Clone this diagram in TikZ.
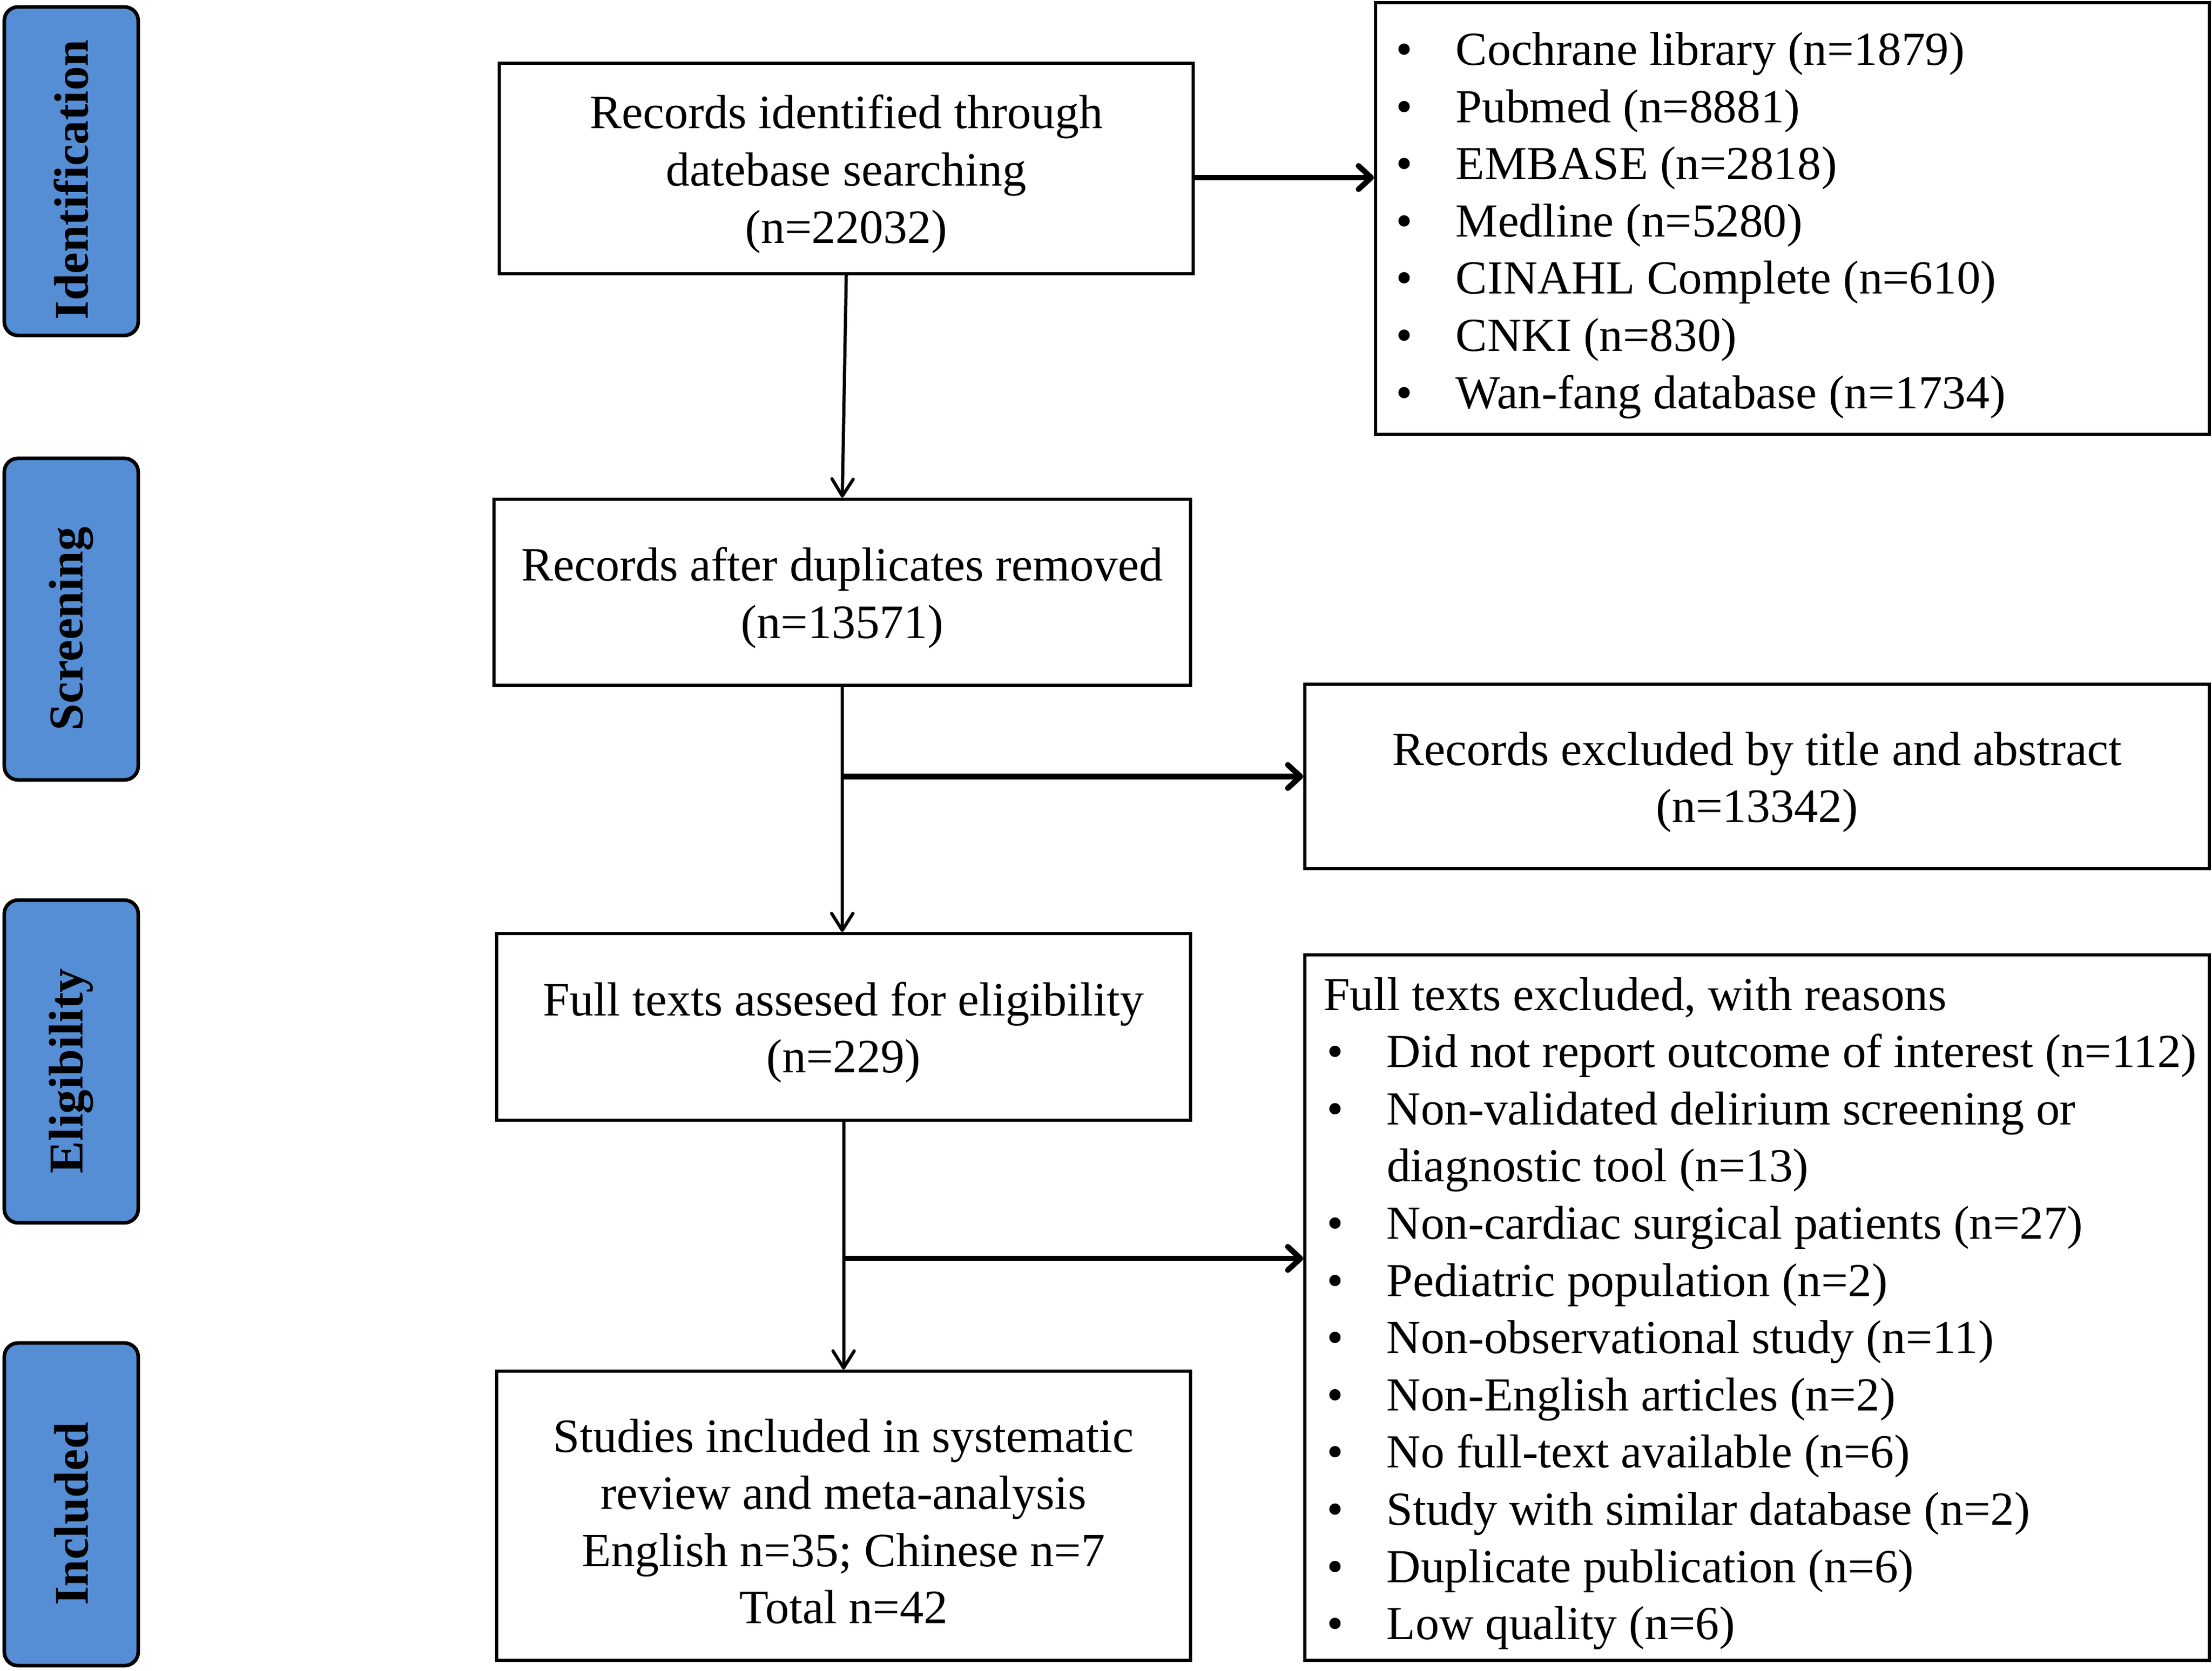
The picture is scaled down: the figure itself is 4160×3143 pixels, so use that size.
\documentclass[tikz,border=0pt]{standalone}
\usepackage{fontspec}
\setmainfont{Liberation Serif}
\usetikzlibrary{arrows.meta,calc}
\definecolor{sideblue}{HTML}{558ED5}
\newcommand{\blt}{\makebox[29.75pt][l]{\hspace{1.5pt}\textbullet}}
\newcommand{\hng}{\hspace*{29.75pt}}
\newcommand{\fl}[1]{\rule{0pt}{#1}}
\begin{document}
\begin{tikzpicture}[x=0.25pt,y=-0.25pt,
  every node/.style={font=\fontsize{22.3}{26.9}\selectfont},
  box/.style={draw,line width=1.5pt,align=center,inner sep=0pt},
  mainbox/.style={box,font=\fontsize{22.5}{26.9}\selectfont},
  listbox/.style={draw,line width=1.5pt,align=left,inner sep=0pt},
  side/.style={draw,line width=1.7pt,fill=sideblue,rounded corners=6.5pt,minimum width=63pt,inner sep=0pt,font=\fontsize{22.8}{26.9}\selectfont\bfseries},
  varrow/.style={line width=1.5pt,-{Straight Barb[length=8pt,width=10pt,round]}},
  harrow/.style={line width=2.6pt,-{Straight Barb[length=6pt,width=11pt,round]}}]
\useasboundingbox (0,0) rectangle (4160,3143);
% side labels
\node[side,minimum height=154.5pt] (sid) at (134,322) {\rotatebox{90}{Identification\hspace{8pt}}};
\node[side,minimum height=151.25pt] (sscr) at (134,1164.5) {\rotatebox{90}{Screening\hspace{9pt}}};
\node[side,minimum height=151.75pt] (selig) at (134,1996.5) {\rotatebox{90}{Eligibility\hspace{9pt}}};
\node[side,minimum height=151.75pt] (sinc) at (134,2829.5) {\rotatebox{90}{Included\hspace{9pt}}};
% main boxes
\node[mainbox,minimum width=326.25pt,minimum height=99pt] (b1) at (1591.5,317) {\fl{21pt}Records identified through\\datebase searching\\(n=22032)};
\node[mainbox,minimum width=327.5pt,minimum height=87.5pt] (b2) at (1584,1114) {\fl{21pt}Records after duplicates removed\\(n=13571)};
\node[mainbox,minimum width=326.25pt,minimum height=87.75pt] (b3) at (1586.5,1931.5) {\fl{21pt}Full texts assesed for eligibility\\(n=229)};
\node[mainbox,minimum width=326.25pt,minimum height=136pt] (b4) at (1586.5,2851) {\fl{21pt}Studies included in systematic\\review and meta-analysis\\English n=35; Chinese n=7\\Total n=42};
% side boxes
\node[listbox,minimum width=392pt,minimum height=203pt] (dbs) at (3371,411) {\fl{22pt}\makebox[376pt][l]{\blt Cochrane library (n=1879)}\\
\blt Pubmed (n=8881)\\
\blt EMBASE (n=2818)\\
\blt Medline (n=5280)\\
\blt CINAHL Complete (n=610)\\
\blt CNKI (n=830)\\
\blt Wan-fang database (n=1734)};
\node[mainbox,minimum width=425.25pt,minimum height=86.75pt] (ex1) at (3304.5,1460.5) {\fl{21pt}Records excluded by title and abstract\\(n=13342)};
\node[listbox,minimum width=425.25pt,minimum height=331.75pt] (ex2) at (3304.5,2459.5) {\fl{21pt}\makebox[407.75pt][l]{Full texts excluded, with reasons}\\
\blt\makebox[377pt][l]{Did not report outcome of interest (n=112)}\\
\blt Non-validated delirium screening or\\
\hng diagnostic tool (n=13)\\
\blt Non-cardiac surgical patients (n=27)\\
\blt Pediatric population (n=2)\\
\blt Non-observational study (n=11)\\
\blt Non-English articles (n=2)\\
\blt No full-text available (n=6)\\
\blt Study with similar database (n=2)\\
\blt Duplicate publication (n=6)\\
\blt Low quality (n=6)};
% connectors
\coordinate (a1) at ($(b1.east)+(0,17)$);
\draw[harrow] (a1) -- (a1 -| dbs.west);
\draw[varrow] (b1.south) -- (b2.north);
\draw[varrow] (b2.south) -- (b2.south |- b3.north);
\draw[harrow] (b2.south |- ex1.west) -- (ex1.west);
\draw[varrow] (b3.south) -- (b4.north);
\coordinate (a3) at ($(ex2.west)+(0,-92.5)$);
\draw[harrow] (b3.south |- a3) -- (a3);
\end{tikzpicture}
\end{document}
